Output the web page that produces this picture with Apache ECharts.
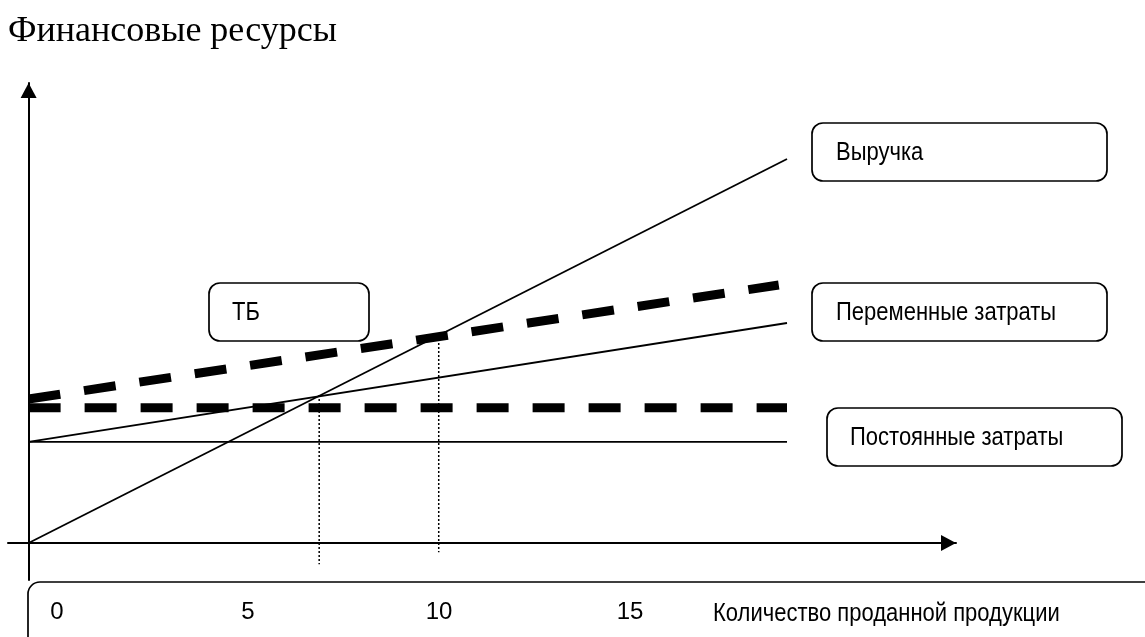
<!DOCTYPE html>
<html>
<head>
<meta charset="utf-8">
<script src="https://cdn.jsdelivr.net/npm/echarts@6/dist/echarts.min.js"></script>
<style>
html,body{margin:0;padding:0;background:#fff;}
#chart{width:1145px;height:637px;}
</style>
</head>
<body>
<div id="chart"></div>
<script>
// ---- data (quantity, money) ----
const chartTitle = 'Финансовые ресурсы';
const revenue = [[0, 0], [18.4, 96]];
const variableCosts = [[0, 25.3], [18.4, 55]];
const fixedCosts = [[0, 25.3], [18.4, 25.3]];
const fixedCostsBold = [[0, 33.8], [18.4, 33.8]];
const totalCostsBold = [[0, 36], [18.2, 64.5]];
const breakEven1 = [[7.05, 37], [7.05, -5.3]];
const breakEven2 = [[9.95, 52], [9.95, -2.3]];
const tickLabels = [0, 5, 10, 15];
const xAxisTitle = 'Количество проданной продукции';
const labelRevenue = 'Выручка';
const labelBE = 'ТБ';
const labelVariable = 'Переменные затраты';
const labelFixed = 'Постоянные затраты';

const sans = "'Liberation Sans', Arial, sans-serif";
const SX = 0.88;

function txt(x, y, text) {
  return { type: 'text', x: x, y: y, scaleX: SX, originX: 0, originY: 0,
    style: { text: text, fill: '#000', font: '25px ' + sans, verticalAlign: 'middle', align: 'left' } };
}
function box(x, y, w, h, text, tx) {
  return {
    type: 'group',
    children: [
      { type: 'rect', shape: { x: x, y: y, width: w, height: h, r: 11 },
        style: { fill: '#fff', stroke: '#000', lineWidth: 1.7 } },
      txt(tx, y + h / 2 + 1, text)
    ]
  };
}

const chart = echarts.init(document.getElementById('chart'), null, { renderer: 'canvas' });
const thin = { color: '#000', width: 1.8 };
chart.setOption({
  animation: false,
  backgroundColor: '#fff',
  title: {
    text: chartTitle, left: 8, top: 14, padding: 0,
    textStyle: { fontFamily: "'Liberation Serif', 'Times New Roman', serif", fontWeight: 'normal', fontSize: 36, color: '#000' }
  },
  grid: [
    { left: 8, right: 189, top: 83, bottom: 57 },
    { left: 57, right: 515, top: 602, height: 10 }
  ],
  xAxis: [
    { type: 'value', gridIndex: 0, min: -0.5, max: 22.5,
      axisLine: { show: true, onZero: true, symbol: ['none', 'triangle'], symbolSize: [16, 15], symbolOffset: [0, -7.5],
        lineStyle: { color: '#000', width: 2 } },
      axisTick: { show: false }, axisLabel: { show: false }, splitLine: { show: false } },
    { type: 'value', gridIndex: 1, min: 0, max: 15, interval: 5,
      axisLine: { show: false }, axisTick: { show: false }, splitLine: { show: false },
      axisLabel: { show: true, margin: 0, verticalAlign: 'middle', fontFamily: sans, fontSize: 24, color: '#000',
        customValues: tickLabels, formatter: function (v) { return String(v); } } }
  ],
  yAxis: [
    { type: 'value', gridIndex: 0, min: -9.25, max: 115,
      axisLine: { show: true, onZero: true, symbol: ['none', 'triangle'], symbolSize: [16, 15], symbolOffset: [0, -7.5],
        lineStyle: { color: '#000', width: 2 } },
      axisTick: { show: false }, axisLabel: { show: false }, splitLine: { show: false } },
    { type: 'value', gridIndex: 1, show: false, min: 0, max: 1 }
  ],
  series: [
    { type: 'line', data: revenue, symbol: 'none', silent: true, lineStyle: thin },
    { type: 'line', data: variableCosts, symbol: 'none', silent: true, lineStyle: thin },
    { type: 'line', data: fixedCosts, symbol: 'none', silent: true, lineStyle: thin },
    { type: 'line', data: fixedCostsBold, symbol: 'none', silent: true,
      lineStyle: { color: '#000', width: 9, type: [32, 24], cap: 'butt' } },
    { type: 'line', data: totalCostsBold, symbol: 'none', silent: true,
      lineStyle: { color: '#000', width: 9, type: [32, 24], cap: 'butt' } },
    { type: 'line', data: breakEven1, symbol: 'none', silent: true,
      lineStyle: { color: '#000', width: 1.5, type: [2, 2] } },
    { type: 'line', data: breakEven2, symbol: 'none', silent: true,
      lineStyle: { color: '#000', width: 1.5, type: [2, 2] } }
  ],
  graphic: [
    box(812, 123, 295, 58, labelRevenue, 836),
    box(209, 283, 160, 58, labelBE, 232),
    box(812, 283, 295, 58, labelVariable, 836),
    box(827, 408, 295, 58, labelFixed, 850),
    { type: 'rect', shape: { x: 28, y: 582, width: 1140, height: 110, r: 12 },
      style: { fill: 'none', stroke: '#000', lineWidth: 1.7 }, z: -1 },
    txt(713, 614, xAxisTitle)
  ]
});
</script>
</body>
</html>
